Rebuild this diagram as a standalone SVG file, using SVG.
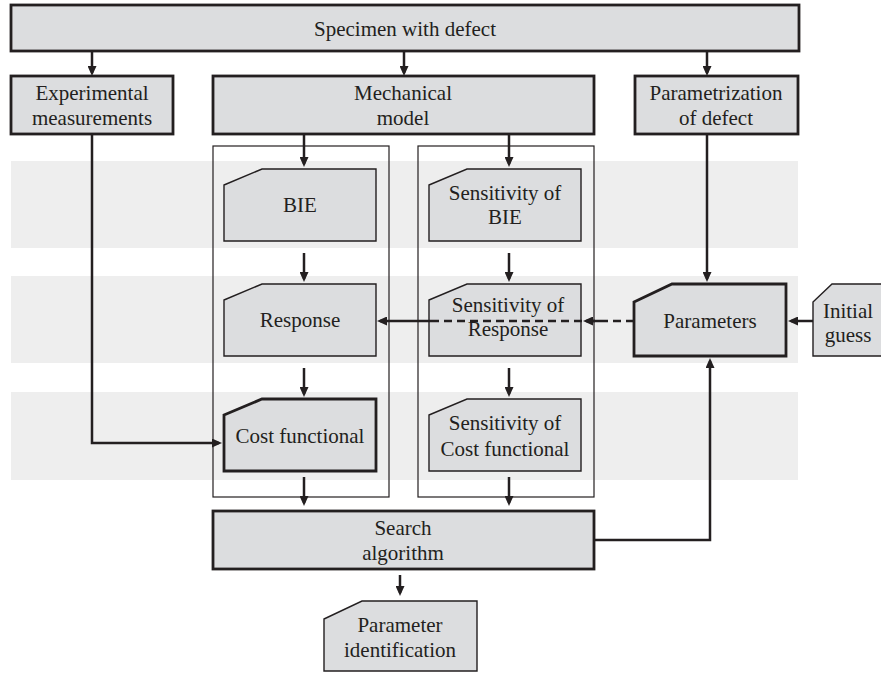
<svg xmlns="http://www.w3.org/2000/svg" width="881" height="673" viewBox="0 0 881 673">
<defs>
<style>
.band{fill:#eeeeee}
.frame{fill:none;stroke:#231f20;stroke-width:1.2}
.box{fill:#dcdddf;stroke:#231f20;stroke-width:1.4}
.thick{stroke-width:2.8}
.conn{fill:none;stroke:#231f20;stroke-width:2.5}
.dash{stroke-dasharray:8 5}
text{font-family:"Liberation Serif","Times New Roman",serif;font-size:21px;fill:#231f20;text-anchor:middle}
</style>
<marker id="ah" markerUnits="userSpaceOnUse" markerWidth="10" markerHeight="9" refX="7" refY="4.5" orient="auto" viewBox="0 0 10 9">
<path d="M0,0 L10,4.5 L0,9 z" fill="#231f20"/>
</marker>
</defs>
<rect width="881" height="673" fill="#ffffff"/>
<g id="bands">
<rect class="band" x="11" y="161" width="787" height="87"/>
<rect class="band" x="11" y="276" width="787" height="87"/>
<rect class="band" x="11" y="392" width="787" height="88"/>
</g>
<g id="frames">
<rect class="frame" x="213" y="146" width="176" height="351"/>
<rect class="frame" x="418" y="146" width="176" height="351"/>
</g>
<g id="specimen"><rect class="box thick" x="11" y="5" width="788" height="46"/><text x="405" y="36">Specimen with defect</text></g>
<g id="experimental"><rect class="box thick" x="11" y="76" width="162" height="58"/><text x="92" y="100">Experimental</text><text x="92" y="125">measurements</text></g>
<g id="mechanical"><rect class="box thick" x="213" y="76" width="381" height="58"/><text x="403" y="100">Mechanical</text><text x="403" y="125">model</text></g>
<g id="parametrization"><rect class="box thick" x="635" y="76" width="163" height="58"/><text x="716" y="100">Parametrization</text><text x="716" y="125">of defect</text></g>
<g id="bie"><path class="box" d="M224,185 L262,169 H376 V241 H224 Z"/><text x="300" y="212">BIE</text></g>
<g id="sens-bie"><path class="box" d="M429,185 L467,169 H581 V241 H429 Z"/><text x="505" y="200">Sensitivity of</text><text x="505" y="224">BIE</text></g>
<g id="response"><path class="box" d="M224,300 L262,284 H376 V356 H224 Z"/><text x="300" y="327">Response</text></g>
<g id="sens-response"><path class="box" d="M429,300 L467,284 H581 V356 H429 Z"/><text x="508" y="312">Sensitivity of</text><text x="508" y="336">Response</text></g>
<g id="cost"><path class="box thick" d="M224,415 L262,399 H376 V471 H224 Z"/><text x="300" y="443">Cost functional</text></g>
<g id="sens-cost"><path class="box" d="M429,415 L467,399 H581 V471 H429 Z"/><text x="505" y="430">Sensitivity of</text><text x="505" y="456">Cost functional</text></g>
<g id="parameters"><path class="box thick" d="M634,302 L672,284 H786 V356 H634 Z"/><text x="710" y="328">Parameters</text></g>
<g id="initial"><path class="box" d="M813,302 L832,284 H885 V356 H813 Z"/><text x="848" y="318">Initial</text><text x="848" y="342">guess</text></g>
<g id="search"><rect class="box thick" x="213" y="511" width="381" height="58"/><text x="403" y="535">Search</text><text x="403" y="560">algorithm</text></g>
<g id="param-id"><path class="box" d="M324,619 L362,601 H477 V671 H324 Z"/><text x="400" y="632">Parameter</text><text x="400" y="657">identification</text></g>
<g id="connectors">
<path class="conn" marker-end="url(#ah)" d="M92,52 V73"/>
<path class="conn" marker-end="url(#ah)" d="M404,52 V73"/>
<path class="conn" marker-end="url(#ah)" d="M707,52 V73"/>
<path class="conn" marker-end="url(#ah)" d="M304,135 V164"/>
<path class="conn" marker-end="url(#ah)" d="M509,135 V164"/>
<path class="conn" marker-end="url(#ah)" d="M304,253 V279"/>
<path class="conn" marker-end="url(#ah)" d="M509,253 V279"/>
<path class="conn" marker-end="url(#ah)" d="M304,368 V394"/>
<path class="conn" marker-end="url(#ah)" d="M509,368 V394"/>
<path class="conn" marker-end="url(#ah)" d="M304,477 V503"/>
<path class="conn" marker-end="url(#ah)" d="M509,477 V503"/>
<path class="conn" marker-end="url(#ah)" d="M400,575 V593"/>
<path class="conn" marker-end="url(#ah)" d="M92,135 V443 H219"/>
<path class="conn" marker-end="url(#ah)" d="M707,135 V279"/>
<path class="conn" marker-end="url(#ah)" d="M595,540 H710 V361"/>
<path class="conn" marker-end="url(#ah)" d="M813,321 H791"/>
<path class="conn dash" d="M634,321 H432"/>
<path class="conn" marker-end="url(#ah)" d="M600,321 H586"/>
<path class="conn" marker-end="url(#ah)" d="M432,321 H380"/>
</g>
</svg>
